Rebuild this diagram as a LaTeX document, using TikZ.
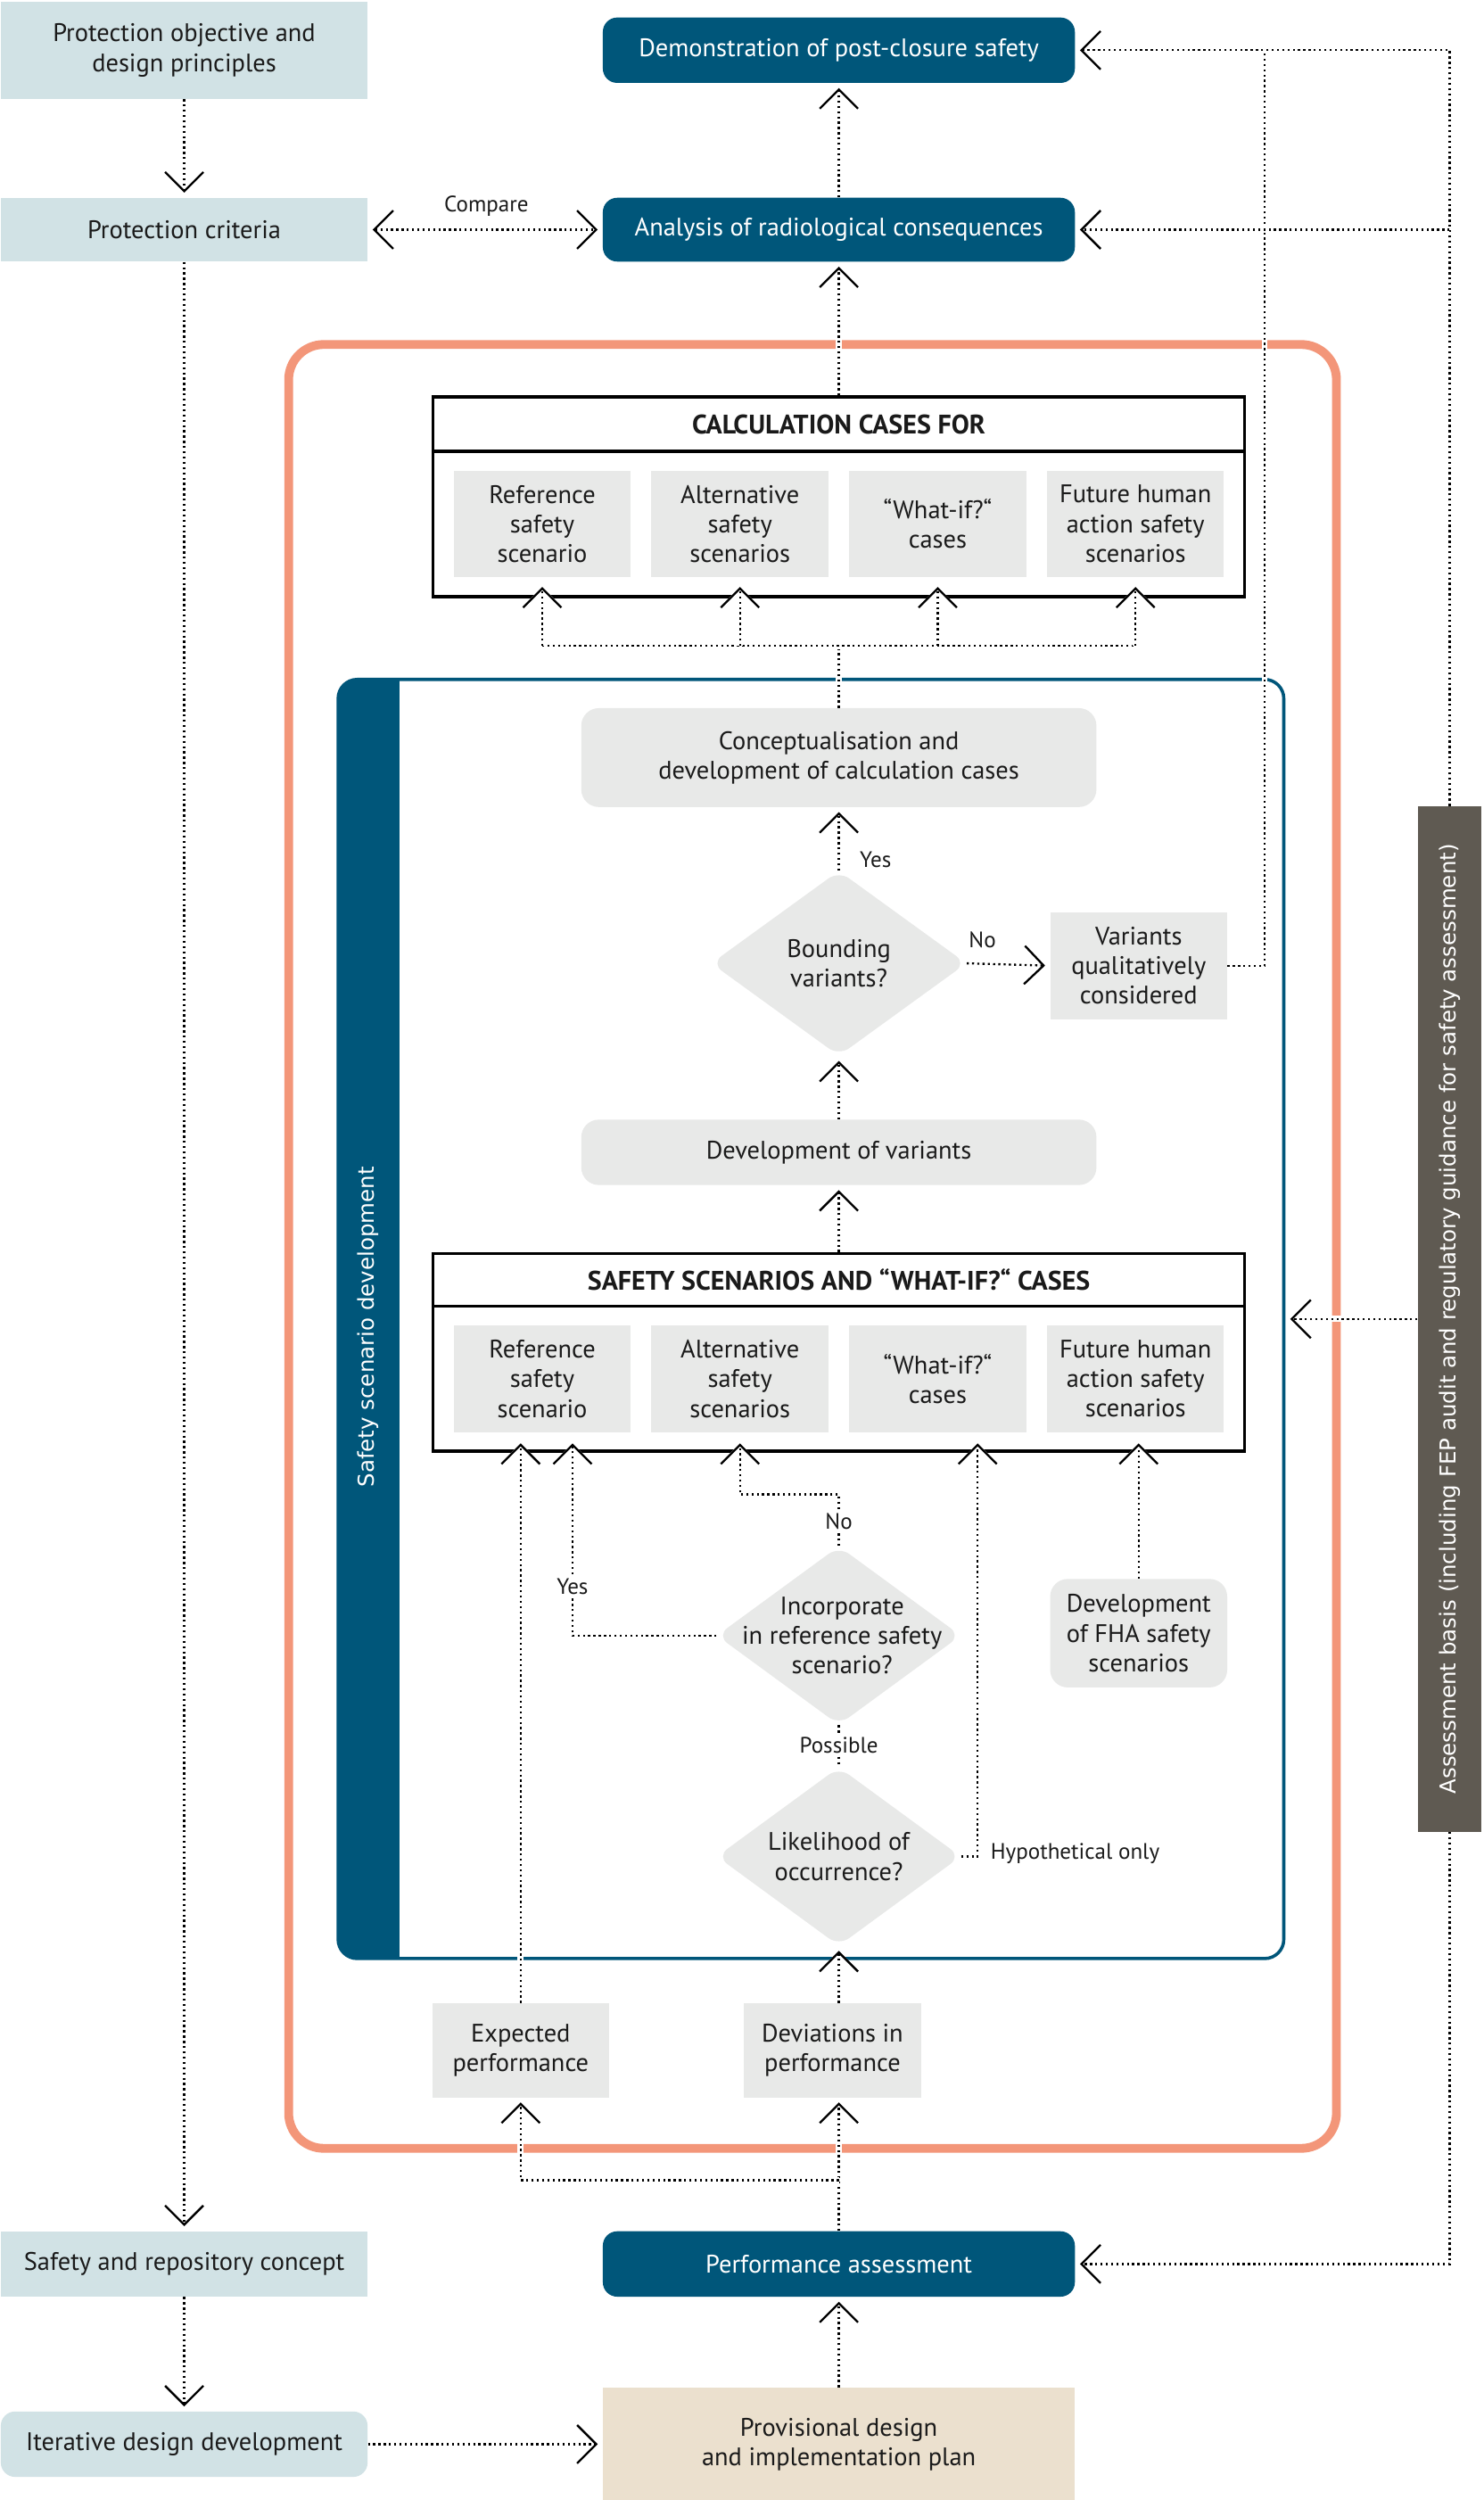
\documentclass[tikz,border=0pt]{standalone}
\usepackage{fontspec}
\setmainfont{PT Sans}
\newfontfamily\vfont{DejaVu Sans}
\usetikzlibrary{arrows.meta,shapes.geometric,calc}
\definecolor{cteal}{HTML}{00567A}
\definecolor{clblue}{HTML}{D1E2E5}
\definecolor{cgray}{HTML}{E8E9E8}
\definecolor{corange}{HTML}{F39679}
\definecolor{cassess}{HTML}{5F5A52}
\definecolor{cbeige}{HTML}{EBE0CE}
\definecolor{ctext}{HTML}{1A1A1A}
\tikzset{
  bb/.tip={Straight Barb[length=12pt,width=24pt]},
  box/.style={inner sep=0pt, align=center, text=ctext},
  lb/.style={box, fill=clblue, minimum width=230pt},
  db/.style={box, fill=cteal, text=white, rounded corners=9pt, minimum width=296pt},
  gb/.style={box, fill=cgray},
  gr/.style={box, fill=cgray, rounded corners=11pt},
  ib/.style={box, fill=cgray, minimum width=111pt, minimum height=67pt},
  frame/.style={box, draw=black, line width=2pt, minimum width=509pt},
  hdr/.style={font=\fontsize{16.8}{19}\selectfont\bfseries},
  dia/.style={diamond, fill=cgray, inner sep=0pt, rounded corners=8pt, text=ctext},
  conn/.style={draw=black, line width=1.3pt, dash pattern=on 1.3pt off 2pt,
    preaction={draw=white, line width=3.8pt, solid}},
  arw/.style={-bb, shorten >=3pt},
  arwc/.style={-bb},
  lbl/.style={inner sep=1pt, text=ctext, font=\fontsize{14}{15}\selectfont},
  vtext/.style={rotate=90, text=white, font=\vfont\fontsize{13.7}{15}\selectfont},
}
\begin{document}
\begin{tikzpicture}[x=1pt,y=-1pt,font=\fontsize{15.9}{18.6}\selectfont]
\useasboundingbox (0,0) rectangle (930,1567.5);
\fill[white] (0,0) rectangle (930,1567.5);

% large frames
\draw[corange, line width=5.5pt, rounded corners=22pt] (181,216) rectangle (838,1347);
\begin{scope}
  \clip[rounded corners=12pt] (212,426) rectangle (805,1228);
  \fill[cteal] (211,425) rectangle (250.5,1229);
\end{scope}
\draw[cteal, line width=2pt, rounded corners=12pt] (212,426) rectangle (805,1228);
\node[vtext] (ssd) at (231,832) {Safety scenario development};

% left column
\node[lb, minimum height=61pt] (pod) at (115.5,31.5) {Protection objective and\\design principles};
\node[lb, minimum height=40pt] (pc) at (115.5,144) {Protection criteria};
\node[lb, minimum height=41pt] (src) at (115.5,1419.5) {Safety and repository concept};
\node[lb, minimum height=41pt, rounded corners=9pt] (idd) at (115.5,1532.5) {Iterative design development};

% central dark boxes
\node[db, minimum height=41pt] (dem) at (526,31.5) {Demonstration of post-closure safety};
\node[db, minimum height=40pt] (arc) at (526,144) {Analysis of radiological consequences};
\node[db, minimum height=41pt] (pa) at (526,1419.5) {Performance assessment};
\node[box, fill=cbeige, minimum width=296pt, minimum height=71pt] (prov) at (526,1532.5) {Provisional design\\and implementation plan};

% calculation cases
\node[frame, hdr, minimum height=34pt] (calch) at (526,266) {CALCULATION CASES FOR};
\node[frame, minimum height=91pt] (calcb) at (526,328.5) {};
\node[ib] (c1) at (340,328.5) {Reference\\safety\\scenario};
\node[ib] (c2) at (464,328.5) {Alternative\\safety\\scenarios};
\node[ib] (c3) at (588,328.5) {“What-if?“\\cases};
\node[ib] (c4) at (712,328.5) {Future human\\action safety\\scenarios};

% scenario development
\node[gr, minimum width=323pt, minimum height=62pt] (conc) at (526,475) {Conceptualisation and\\development of calculation cases};
\node[dia, minimum width=160pt, minimum height=116pt] (bv) at (526,604) {};
\node[box] (bvt) at (526,604) {Bounding\\variants?};
\node[gb, minimum width=111pt, minimum height=67pt] (var) at (714,605.5) {Variants\\qualitatively\\considered};
\node[gr, minimum width=323pt, minimum height=41pt] (dv) at (526,722.5) {Development of variants};

% safety scenarios
\node[frame, hdr, minimum height=33pt] (sfh) at (526,802.5) {SAFETY SCENARIOS AND “WHAT-IF?“ CASES};
\node[frame, minimum height=91pt] (sfb) at (526,864.5) {};
\node[ib] (s1) at (340,864.5) {Reference\\safety\\scenario};
\node[ib] (s2) at (464,864.5) {Alternative\\safety\\scenarios};
\node[ib] (s3) at (588,864.5) {“What-if?“\\cases};
\node[ib] (s4) at (712,864.5) {Future human\\action safety\\scenarios};

\node[dia, minimum width=153pt, minimum height=112pt] (inc) at (526,1025.5) {};
\node[box] (inct) at (528,1025.5) {Incorporate\\in reference safety\\scenario?};
\node[dia, minimum width=153pt, minimum height=112pt] (lik) at (526,1164) {};
\node[box] (likt) at (526,1164) {Likelihood of\\occurrence?};
\node[gr, minimum width=111pt, minimum height=68pt] (fha) at (714,1024) {Development\\of FHA safety\\scenarios};

\node[gb, minimum width=111pt, minimum height=59pt] (exp) at (326.5,1285.5) {Expected\\performance};
\node[gb, minimum width=111pt, minimum height=59pt] (dev) at (522,1285.5) {Deviations in\\performance};

% assessment basis
\node[box, fill=cassess, rotate=90, minimum width=643pt, minimum height=40pt, text=white, font=\vfont\fontsize{13.7}{15}\selectfont] (ab) at (909,827) {Assessment basis (including FEP audit and regulatory guidance for safety assessment)};

% coordinates
\coordinate (cj) at (526,405);
\coordinate (c1t) at (340,368);
\coordinate (c2t) at (464,368);
\coordinate (c3t) at (588,368);
\coordinate (c4t) at (712,368);
\coordinate (s1a) at (326.5,905);
\coordinate (s1b) at (359,905);
\coordinate (s2t) at (464,905);
\coordinate (s3t) at (613,905);
\coordinate (s4t) at (714,905);
\coordinate (nj) at (526,937);
\coordinate (pj) at (526,1367);
\coordinate (vtop) at (793,31.5);
\coordinate (bt) at (809,827);

% connectors, left column
\draw[conn,arw] (pod) -- (pc);
\draw[conn,arw] (pc) -- (src);
\draw[conn,arw] (src) -- (idd);
\draw[conn,arw] (idd) -- (prov);
\draw[conn,{bb}-{bb},shorten <=3pt,shorten >=3pt] (pc.east) -- (arc.west);

% centre column
\draw[conn,arw] (prov) -- (pa);
\draw[conn,arw] (pa.north) -- (pa.north |- dev.south);
\draw[conn,arw] (pj) -| (exp.south);
\draw[conn,arwc] (exp.north) -- (s1a);
\draw[conn,arw] (pa.north |- dev.north) -- (lik.south);
\draw[conn] (inc.south) -- (lik.north);
\draw[conn,arwc] (lik.east) -| (s3t);
\draw[conn,arwc] (inc.north) -- (nj) -| (s2t);
\draw[conn,arwc] (inc.west) -| (s1b);
\draw[conn,arwc] (fha.north) -- (s4t);
\draw[conn,arw] (sfh.north) -- (dv.south);
\draw[conn,arw] (dv.north) -- (bv.south);
\draw[conn,arw] (bv.east) -- (var.west);
\draw[conn,arw] (bv.north) -- (conc.south);
\draw[conn] (conc.north) -- (cj);
\draw[conn] (c1t |- cj) -- (c4t |- cj);
\draw[conn,arwc] (c1t |- cj) -- (c1t);
\draw[conn,arwc] (c2t |- cj) -- (c2t);
\draw[conn,arwc] (c3t |- cj) -- (c3t);
\draw[conn,arwc] (c4t |- cj) -- (c4t);
\draw[conn,arw] (calch.north) -- (arc.south);
\draw[conn,arw] (arc.north) -- (dem.south);

% right side
\draw[conn] (var.east) -| (vtop);
\draw[conn,arw] (ab.east) |- (dem.east);
\draw[conn,arw] (ab.east |- arc.east) -- (arc.east);
\draw[conn,arw] (ab.west) |- (pa.east);
\draw[conn,arwc] (ab.north) -- (bt);

% labels
\node[lbl] (lcmp) at (305,129) {Compare};
\node[lbl, anchor=west] (lyes1) at (538,539) {Yes};
\node[lbl] (lno1) at (616,589) {No};
\node[lbl, fill=white] (lno2) at (526,954) {No};
\node[lbl, fill=white] (lyes2) at (359,995) {Yes};
\node[lbl, fill=white] (lpos) at (526,1094) {Possible};
\node[lbl, anchor=west] (lhyp) at (620,1162) {Hypothetical only};
\end{tikzpicture}
\end{document}
